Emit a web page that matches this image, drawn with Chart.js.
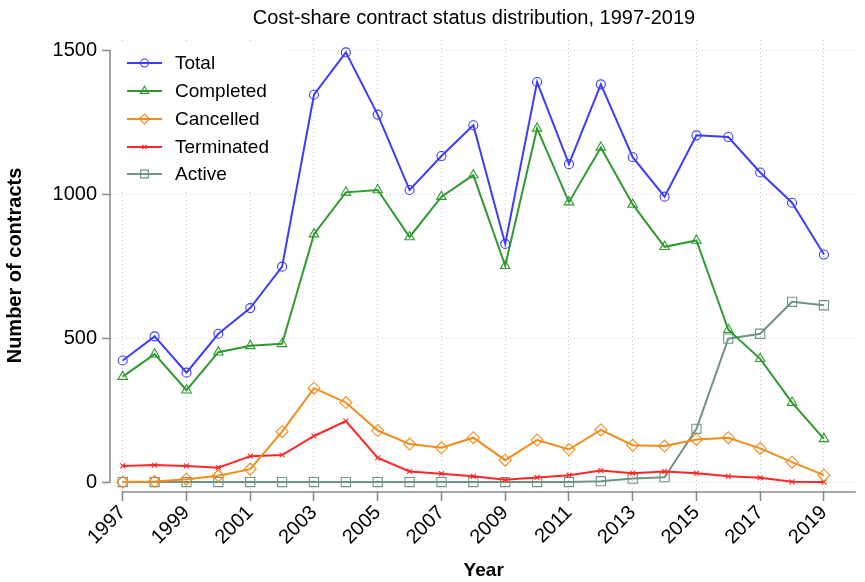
<!DOCTYPE html>
<html>
<head>
<meta charset="utf-8">
<script src="https://cdn.jsdelivr.net/npm/chart.js@4.4.1/dist/chart.umd.min.js"></script>
<style>
html,body{margin:0;padding:0;background:#fff;}
#wrap{width:865px;height:582px;position:relative;}
</style>
</head>
<body>
<div id="wrap"><canvas id="c"></canvas></div>
<script>
const years = [1997,1998,1999,2000,2001,2002,2003,2004,2005,2006,2007,2008,2009,2010,2011,2012,2013,2014,2015,2016,2017,2018,2019];
const total      = [422,506,380,515,604,748,1345,1492,1276,1014,1132,1239,827,1389,1104,1381,1128,991,1204,1198,1075,970,790];
const completed  = [366,444,319,451,473,480,861,1006,1014,851,991,1066,751,1228,972,1162,964,817,839,529,428,276,150];
const cancelled  = [0,2,10,22,45,175,326,276,179,132,119,154,76,146,113,181,128,125,148,154,117,69,24];
const terminated = [56,59,56,50,90,94,160,212,84,37,29,20,8,16,24,40,31,37,31,20,15,1,0];
const active     = [0,0,0,0,0,0,0,0,0,0,0,0,0,0,0,3,12,17,185,498,515,626,614];
const xTicks = [1997,1999,2001,2003,2005,2007,2009,2011,2013,2015,2017,2019];
const yTicks = [0,500,1000,1500];
const titleText = 'Cost-share contract status distribution, 1997-2019';

const FONT = "'Liberation Sans', Arial, sans-serif";
const pts = arr => years.map((y,i)=>({x:y,y:arr[i]}));

function ds(label, arr, color, style, radius){
  return {label, data:pts(arr), borderColor:color, backgroundColor:'rgba(0,0,0,0)',
    pointBorderColor:color, pointBackgroundColor:'rgba(0,0,0,0)', pointStyle:style,
    pointRadius:radius, pointBorderWidth:1.1, borderWidth:2, tension:0, clip:false};
}

const datasets = [
  ds('Total', total, '#3c3cff', 'circle', 4.5),
  ds('Completed', completed, '#2e9a2e', 'triangle', 5.5),
  ds('Cancelled', cancelled, '#f08c1c', 'rectRot', 6),
  ds('Terminated', terminated, '#ff2626', 'crossRot', 3.5),
  ds('Active', active, '#6f9384', 'rect', 6.5)
];
datasets.forEach((d,i)=>{ d.order = i; });

const legendRadius = {circle:4, triangle:4.8, rectRot:5, crossRot:3, rect:5.5};

const extras = {
  id:'extras',
  beforeDatasetsDraw(chart){
    const ctx = chart.ctx;
    ctx.save();
    ctx.fillStyle = '#fff';
    ctx.fillRect(114, 41, 175, 148);
    const rows = [63,91,119,147,174];
    chart.data.datasets.forEach((d,i)=>{
      const y = rows[i];
      ctx.strokeStyle = d.borderColor; ctx.lineWidth = 2;
      ctx.beginPath(); ctx.moveTo(127,y); ctx.lineTo(162,y); ctx.stroke();
      ctx.lineWidth = 1.1;
      ctx.strokeStyle = d.borderColor;
      ctx.fillStyle = 'rgba(0,0,0,0)';
      Chart.helpers.drawPoint(ctx, {pointStyle:d.pointStyle, rotation:0, borderWidth:1.1, radius:legendRadius[d.pointStyle]}, 144.5, y);
      ctx.fillStyle = '#000';
      ctx.font = '19px ' + FONT;
      ctx.textBaseline = 'middle'; ctx.textAlign = 'left';
      ctx.fillText(d.label, 175, y+1);
    });
    ctx.restore();
  },
  afterDraw(chart){
    const ctx = chart.ctx;
    const xs = chart.scales.x, ys = chart.scales.y;
    ctx.save();
    ctx.strokeStyle = '#8c8c8c'; ctx.lineWidth = 1.6;
    const ax = chart.chartArea.left;
    ctx.beginPath(); ctx.moveTo(ax, ys.getPixelForValue(0)); ctx.lineTo(ax, ys.getPixelForValue(1500)); ctx.stroke();
    const ay = chart.chartArea.bottom + 1;
    ctx.beginPath(); ctx.moveTo(xs.getPixelForValue(1997), ay); ctx.lineTo(xs.getPixelForValue(2020), ay); ctx.stroke();
    ctx.fillStyle = '#000';
    ctx.font = '20px ' + FONT;
    ctx.textAlign = 'center'; ctx.textBaseline = 'alphabetic';
    ctx.fillText(titleText, 474, 24);
    ctx.restore();
  }
};

Chart.defaults.font.family = FONT;
Chart.defaults.color = '#000';

new Chart(document.getElementById('c'), {
  type:'line',
  data:{datasets},
  options:{
    responsive:true, maintainAspectRatio:false, animation:false,
    devicePixelRatio:1,
    layout:{padding:{top:40,right:5,left:0,bottom:0}},
    plugins:{legend:{display:false}, title:{display:false}, tooltip:{enabled:false}},
    scales:{
      x:{type:'linear', min:1996.6, max:2020.05,
        afterBuildTicks(s){ s.ticks = xTicks.map(v=>({value:v})); },
        afterFit(s){ s.height = 91; },
        ticks:{font:{size:20}, maxRotation:45, minRotation:45, padding:0, autoSkip:false, callback:v=>String(v)},
        grid:{color:'#c8c8c8', lineWidth:1, tickColor:'#8c8c8c', tickLength:10, tickWidth:1.6, tickBorderDash:[]},
        border:{display:false, dash:[1,3]},
        title:{display:true, text:'Year', font:{size:19, weight:'bold'}, padding:{top:0,bottom:0}}
      },
      y:{type:'linear', min:-31, max:1535,
        afterBuildTicks(s){ s.ticks = yTicks.map(v=>({value:v})); },
        afterFit(s){ s.width = 110; },
        ticks:{font:{size:20}, padding:5, callback:v=>String(v)},
        grid:{color:'#c8c8c8', lineWidth:1, tickColor:'#8c8c8c', tickLength:8, tickWidth:1.6, tickBorderDash:[]},
        border:{display:false, dash:[1,3]},
        title:{display:true, text:'Number of contracts', font:{size:20, weight:'bold'}, padding:{top:3,bottom:0}}
      }
    }
  },
  plugins:[extras]
});
</script>
</body>
</html>
